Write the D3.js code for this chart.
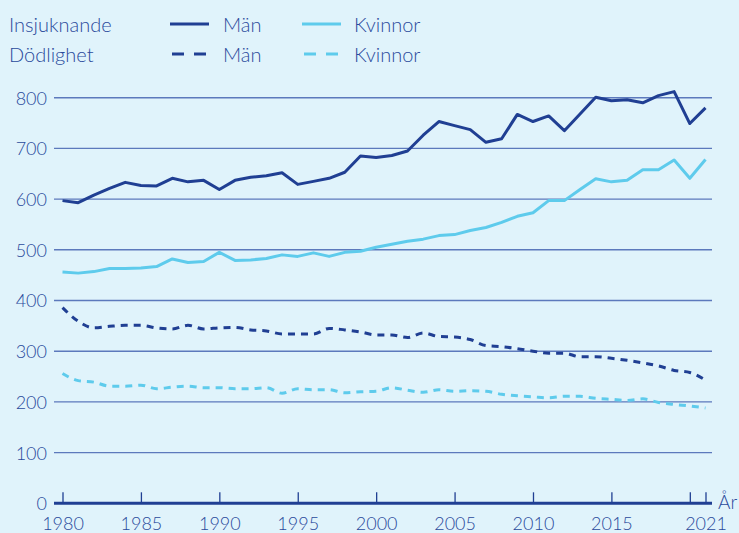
<!DOCTYPE html>
<html>
<head>
<meta charset="utf-8">
<script src="https://cdn.jsdelivr.net/npm/d3@7/dist/d3.min.js"></script>
<style>
  body { margin: 0; background: #e0f3fb; }
  svg { display: block; font-family: Lato, "Noto Sans", sans-serif; font-weight: 300; }
</style>
</head>
<body>
<div id="chart"></div>
<script>
/*
  data
*/
var years = [1980,1981,1982,1983,1984,1985,1986,1987,1988,1989,
             1990,1991,1992,1993,1994,1995,1996,1997,1998,1999,
             2000,2001,2002,2003,2004,2005,2006,2007,2008,2009,
             2010,2011,2012,2013,2014,2015,2016,2017,2018,2019,
             2020,2021];

var insjukMan = [597,593,608,621,633,627,626,641,634,637,
                 619,637,643,646,652,629,635,641,653,685,
                 682,686,695,726,753,745,737,712,719,767,
                 753,764,735,768,801,794,796,790,804,812,
                 749,780];

var insjukKvinnor = [456,454,457,463,463,464,467,482,475,477,
                     495,479,480,483,490,487,494,487,495,497,
                     505,511,517,521,528,530,538,544,554,566,
                     573,597,597,619,640,634,637,658,658,677,
                     641,678];

var dodMan = [386,359,346,349,351,351,346,344,351,344,
              346,347,342,340,334,334,334,345,342,338,
              332,332,327,336,329,328,323,311,309,305,
              300,296,296,289,289,286,282,277,271,262,
              258,243];

var dodKvinnor = [256,242,239,231,231,233,226,229,231,228,
                  228,226,226,228,217,226,224,224,218,220,
                  221,228,223,219,224,221,222,221,215,212,
                  210,208,211,211,207,205,203,206,199,195,
                  192,188];

var yTicks = [0,100,200,300,400,500,600,700,800];
var xTickYears = [1980,1985,1990,1995,2000,2005,2010,2015,2020,2021];
var xLabelYears = [1980,1985,1990,1995,2000,2005,2010,2015,2021];

var dark = '#203f93',
    light = '#5ecbec',
    txt = '#2a4a9c',
    grid = '#5c79bc',
    font = 'Lato, "Noto Sans", sans-serif';

var W = 739, H = 533;
var svg = d3.select('#chart').append('svg')
  .attr('width', W).attr('height', H);

svg.append('rect').attr('width', W).attr('height', H).attr('fill', '#e0f3fb');

var x = d3.scaleLinear().domain([1980, 2021]).range([62.5, 705.5]);
var y = d3.scaleLinear().domain([0, 800]).range([503.3, 97.7]);
var gridLeft = 54, gridRight = 712;

// gridlines
svg.append('g').selectAll('line')
  .data(yTicks.filter(function(d){ return d > 0; }))
  .enter().append('line')
    .attr('x1', gridLeft).attr('x2', gridRight)
    .attr('y1', function(d){ return y(d); })
    .attr('y2', function(d){ return y(d); })
    .attr('stroke', grid).attr('stroke-width', 1.4);

// y labels via axis
var yAxis = svg.append('g')
  .attr('transform', 'translate(47,0)')
  .call(d3.axisLeft(y).tickValues(yTicks).tickSize(0).tickPadding(0))
  .attr('font-family', font);
yAxis.select('.domain').remove();
yAxis.selectAll('text')
  .attr('fill', txt).style('font-size', '18px').attr('dy', '0.36em');

// x axis: ticks upward from baseline
var xAxis = svg.append('g')
  .attr('transform', 'translate(0,' + y(0) + ')')
  .call(d3.axisTop(x).tickValues(xTickYears).tickSize(11).tickFormat(''));
xAxis.select('.domain').remove();
xAxis.selectAll('line').attr('stroke', dark).attr('stroke-width', 1.3);

svg.append('line')
  .attr('x1', gridLeft).attr('x2', gridRight)
  .attr('y1', y(0)).attr('y2', y(0))
  .attr('stroke', dark).attr('stroke-width', 3);

var xLab = svg.append('g')
  .attr('transform', 'translate(0,' + (y(0) + 27) + ')')
  .call(d3.axisBottom(x).tickValues(xLabelYears).tickSize(0).tickPadding(0).tickFormat(d3.format('d')))
  .attr('font-family', font);
xLab.select('.domain').remove();
xLab.selectAll('text').attr('fill', txt).style('font-size', '18px').attr('dy', 0);

svg.append('text').attr('x', 718).attr('y', 509)
  .attr('fill', txt).style('font-size', '19px').text('År');

// lines
var series = [
  { vals: dodKvinnor, color: light, dash: '7,6', curve: d3.curveMonotoneX },
  { vals: dodMan, color: dark, dash: '7,6', curve: d3.curveMonotoneX },
  { vals: insjukKvinnor, color: light, dash: null, curve: d3.curveLinear },
  { vals: insjukMan, color: dark, dash: null, curve: d3.curveLinear }
];

series.forEach(function(s) {
  var line = d3.line()
    .x(function(d, i){ return x(years[i]); })
    .y(function(d){ return y(d); })
    .curve(s.curve);
  svg.append('path')
    .datum(s.vals)
    .attr('d', line)
    .attr('fill', 'none')
    .attr('stroke', s.color)
    .attr('stroke-width', 3)
    .attr('stroke-linejoin', 'round')
    .attr('stroke-dasharray', s.dash);
});

// legend
var rows = [
  { label: 'Insjuknande', y: 24, dash: null },
  { label: 'Dödlighet', y: 54, dash: '12,10' }
];
var legend = svg.append('g');
rows.forEach(function(r) {
  legend.append('text').attr('x', 9).attr('y', r.y + 8)
    .attr('fill', txt).style('font-size', '20px').text(r.label);
  [{ x1: 170, x2: 209, tx: 223, c: dark, t: 'Män' },
   { x1: 302, x2: 341, tx: 354, c: light, t: 'Kvinnor' }].forEach(function(it) {
    legend.append('line')
      .attr('x1', it.x1 + (r.dash ? 2 : 0)).attr('x2', it.x2)
      .attr('y1', r.y).attr('y2', r.y)
      .attr('stroke', it.c).attr('stroke-width', 3)
      .attr('stroke-dasharray', r.dash);
    legend.append('text').attr('x', it.tx).attr('y', r.y + 8)
      .attr('fill', txt).style('font-size', '20px').text(it.t);
  });
});
</script>
</body>
</html>
